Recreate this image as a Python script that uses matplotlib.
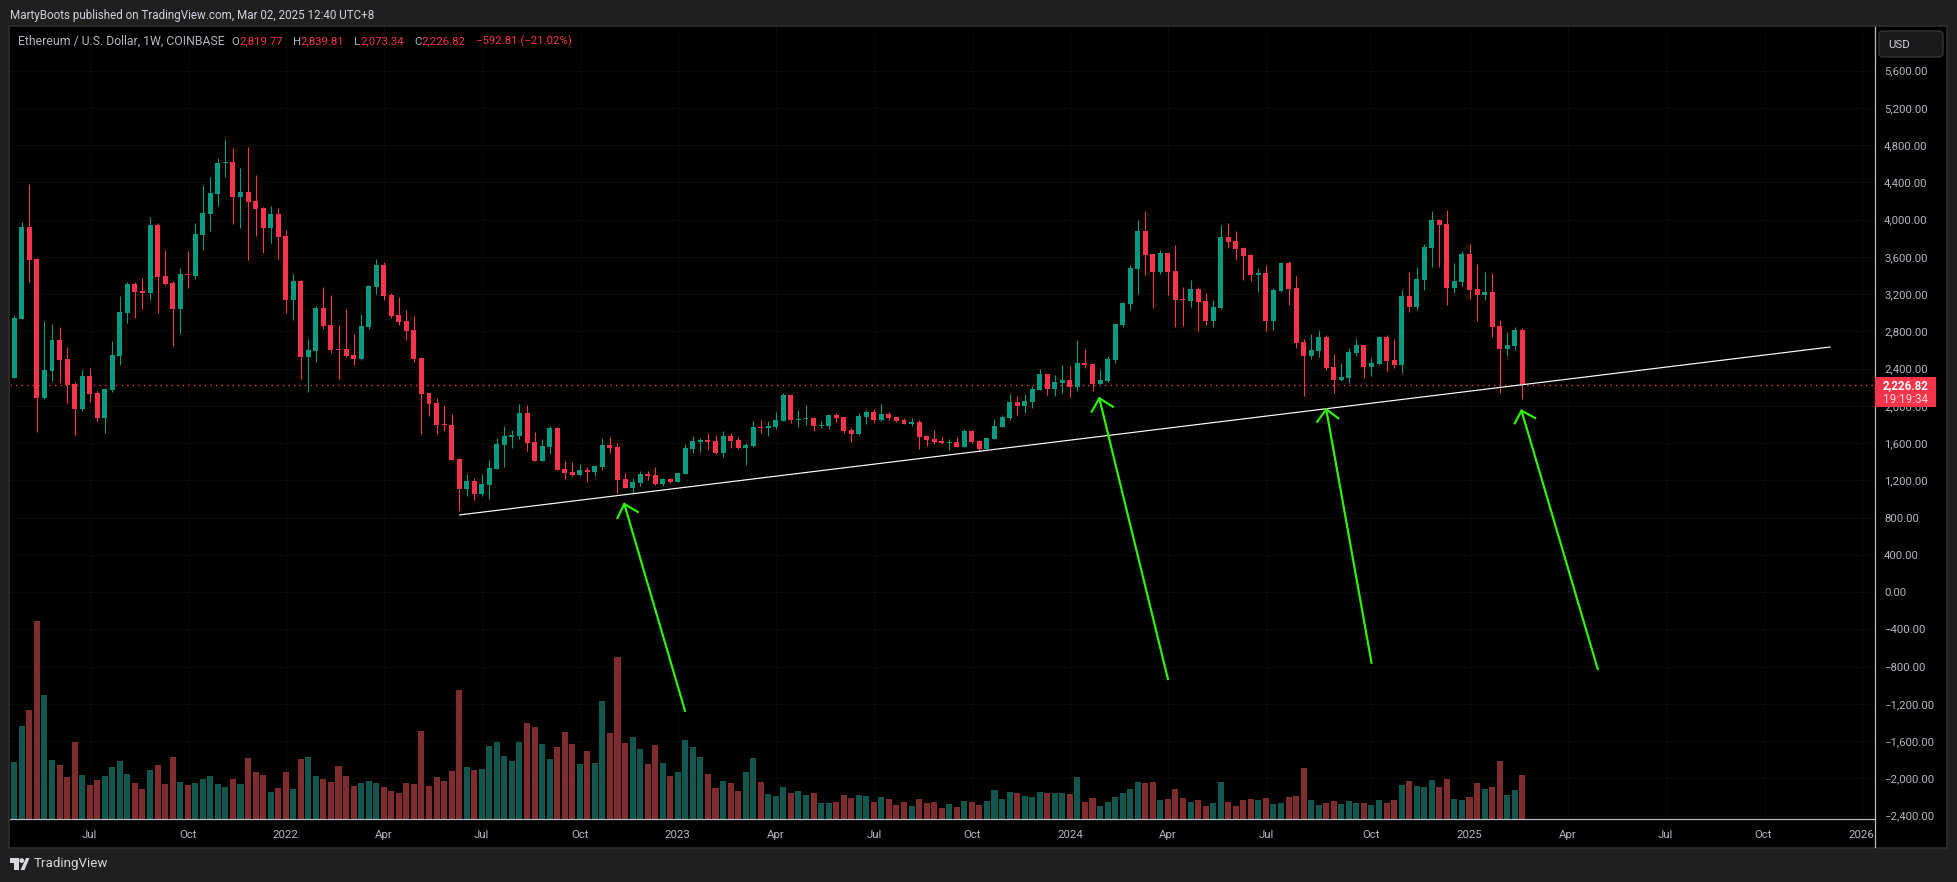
import matplotlib
matplotlib.use("Agg")
import matplotlib.pyplot as plt
from matplotlib.patches import Rectangle, FancyBboxPatch, Polygon, Circle
from matplotlib.lines import Line2D
from matplotlib.ticker import FixedLocator, FixedFormatter

plt.rcParams['font.family'] = ['Roboto', 'DejaVu Sans']

# Weekly bars, ETH/USD
opens = [2303,2933,3921,3577,2088,2378,2707,2503,2235,1966,2321,2138,1870,2170,2536,2997,3309,3234,3212,3942,
 3395,3320,3040,3416,3395,3835,4061,4275,4608,4619,4243,4297,4200,4125,3910,4061,3824,3137,3341,2525,
 2589,3051,2869,2611,2611,2546,2503,2847,3277,3513,3191,2976,2911,2815,2514,2138,2031,1805,1795,1429,
 1107,1193,1054,1150,1322,1580,1666,1676,1923,1612,1408,1558,1762,1322,1290,1257,1311,1290,1343,1580,
 1558,1215,1118,1172,1268,1257,1161,1215,1183,1269,1537,1612,1634,1623,1494,1677,1634,1548,1569,1773,
 1763,1773,1838,2117,1849,1859,1870,1784,1784,1902,1881,1741,1698,1881,1934,1849,1913,1881,1849,1806,
 1827,1677,1645,1623,1602,1612,1559,1730,1623,1537,1645,1773,1870,2042,1999,2042,2171,2343,2182,2246,
 2278,2203,2461,2450,2235,2267,2493,2869,3095,3471,3879,3632,3438,3642,3449,3148,3127,3256,3127,2912,
 3052,3814,3771,3696,3621,3406,3428,2912,3234,3535,3266,2687,2536,2590,2740,2418,2278,2300,2568,2654,
 2418,2450,2740,2493,2440,3181,3062,3352,3696,3997,3954,3266,3331,3632,3256,3191,3223,2858,2611,2644,
 2819.77]
highs = [2972,3971,4383,3584,2911,2879,2847,2629,2256,2385,2403,2160,2188,2697,3180,3327,3330,3373,4025,3960,
 3674,3341,3481,3663,3964,4368,4458,4658,4866,4769,4555,4780,4479,4136,4147,4125,3889,3416,3352,2718,
 3072,3277,3191,2869,3040,2772,2987,3298,3577,3545,3212,3169,3030,2965,2525,2138,2085,2009,1913,1440,
 1268,1225,1268,1418,1655,1784,1741,2020,2009,1719,1644,1784,1773,1408,1397,1376,1343,1365,1655,1666,
 1601,1279,1225,1300,1300,1343,1226,1226,1290,1591,1677,1655,1709,1688,1730,1709,1666,1602,1838,1849,
 1838,1934,2139,2117,1956,2010,1881,1838,1913,1924,1881,1763,1924,1956,1967,2020,1934,1881,1870,1870,
 1849,1688,1741,1666,1645,1666,1752,1741,1634,1655,1859,1902,2128,2106,2128,2214,2396,2343,2332,2439,
 2429,2708,2611,2461,2386,2536,2890,3116,3514,3997,4093,3632,3675,3642,3728,3277,3352,3277,3213,3138,
 3943,3965,3879,3707,3632,3481,3514,3266,3546,3556,3395,2719,2772,2815,2762,2558,2461,2622,2719,2654,
 2515,2751,2762,2719,3245,3438,3492,3739,4093,4007,4104,3535,3664,3739,3524,3438,3428,2923,2794,2848,
 2839.81]
lows = [2303,2933,3330,1719,2070,2271,2249,2034,1691,1948,2045,1841,1712,2152,2443,2894,2947,3040,3137,2997,
 3295,2646,2772,3266,3363,3674,3878,4147,4458,3953,3910,3567,3824,3642,3749,3577,2997,2922,2289,2152,
 2471,2826,2568,2289,2525,2439,2493,2826,3201,3137,2944,2869,2707,2471,1698,1891,1698,1730,1418,871,
 1032,989,1032,1000,1322,1343,1548,1644,1515,1408,1408,1483,1311,1215,1247,1257,1182,1247,1311,1494,
 1064,1118,1064,1139,1204,1150,1140,1172,1183,1269,1494,1505,1526,1483,1451,1548,1537,1365,1559,1709,
 1677,1752,1838,1816,1773,1795,1730,1763,1752,1827,1709,1612,1688,1806,1816,1838,1849,1827,1806,1784,
 1537,1569,1591,1591,1526,1559,1559,1602,1516,1537,1645,1773,1849,1902,1924,1977,2171,2117,2106,2139,
 2096,2160,2407,2160,2235,2257,2461,2848,3030,3202,3406,3052,3417,3191,2848,2858,3062,2805,2869,2848,
 3041,3696,3567,3352,3342,3223,2805,2815,3223,3084,2622,2107,2504,2525,2386,2139,2268,2246,2536,2300,
 2321,2440,2375,2407,2354,3009,3030,3245,3492,3492,3084,3213,3288,3148,2912,3138,2740,2139,2536,2601,
 2073.34]
closes = [2944,3921,3567,2088,2385,2707,2496,2228,1970,2321,2131,1870,2181,2546,3008,3309,3223,3212,3942,3384,
 3309,3040,3416,3406,3846,4071,4286,4608,4616,4243,4297,4190,4114,3910,4061,3814,3137,3341,2525,2600,
 3051,2858,2600,2600,2536,2503,2858,3287,3513,3180,2965,2901,2804,2503,2127,2020,1795,1795,1418,1107,
 1193,1054,1161,1333,1590,1676,1687,1923,1601,1408,1569,1762,1311,1279,1257,1311,1290,1354,1580,1548,
 1204,1118,1182,1268,1247,1161,1215,1183,1279,1548,1623,1634,1612,1494,1677,1623,1548,1580,1773,1763,
 1784,1849,2117,1849,1859,1870,1784,1795,1902,1870,1730,1698,1892,1934,1849,1913,1870,1838,1806,1827,
 1666,1634,1612,1602,1612,1559,1730,1612,1537,1655,1784,1881,2042,1999,2053,2182,2343,2182,2257,2278,
 2203,2461,2439,2235,2278,2504,2880,3105,3481,3879,3621,3438,3642,3438,3138,3138,3256,3116,2912,3062,
 3814,3761,3685,3610,3406,3428,2912,3245,3535,3256,2676,2536,2601,2740,2407,2278,2311,2579,2654,2418,
 2461,2740,2482,2440,3181,3062,3363,3707,3997,3943,3266,3342,3632,3245,3191,3223,2848,2611,2654,2815,
 2226.82]
volumes = [57,93,109,198,124,59,54,42,77,44,34,39,43,52,58,45,36,30,49,54,
 35,62,37,34,36,40,43,35,32,40,35,61,47,44,27,31,47,30,60,62,
 43,40,37,53,43,33,36,38,36,32,28,26,36,35,88,33,42,38,48,129,
 52,49,50,73,77,63,58,77,96,92,75,60,72,87,75,55,68,56,118,86,
 162,76,82,70,55,74,56,43,47,79,72,62,45,31,38,36,28,47,61,37,
 25,23,32,26,28,24,26,16,16,17,24,21,24,23,17,22,20,14,17,13,
 20,16,17,11,15,12,18,17,14,18,29,20,27,26,23,22,27,26,26,26,
 25,42,17,21,13,17,22,26,30,37,36,37,19,20,30,21,17,19,13,16,
 37,17,13,19,20,19,21,15,16,22,23,51,19,14,16,18,15,18,16,16,
 14,19,16,19,34,38,33,32,39,32,40,20,19,22,36,30,32,58,24,29,
 44]

price_ticks = list(range(-2400, 5601, 400))
time_tick_bars = [10,23,36,49,62,75,88,101,114,127,140,153,166,180,193,206,219,232,245]
time_tick_labels = ['Jul','Oct','2022','Apr','Jul','Oct','2023','Apr','Jul','Oct','2024','Apr','Jul','Oct','2025','Apr','Jul','Oct','2026']

trend_bars = [59, 240.9]
trend_prices = [828, 2633]
# each arrow: tail, tip, left wing, right wing as (bar, price)
arrow_bars = [[88.95,80.9,80.0,82.7],[153.0,143.9,142.9,145.7],[180.0,174.0,172.8,175.6],[210.0,199.9,199.0,201.7]]
arrow_prices = [[-1274,946,796,860],[-933,2082,1938,1991],[-758,1963,1830,1867],[-826,1948,1813,1870]]

W, H = 1957, 882
BG = '#1f1f1f'
UP, DOWN = '#089981', '#F7344A'
VUP, VDOWN = '#13564E', '#7E2C2E'
TXT = '#B2B5BE'
GREEN = '#2EF000'

fig = plt.figure(figsize=(W/100, H/100), dpi=100, facecolor=BG)
def fx(px): return px / W
def fy(py): return 1 - py / H

L, R, T, B = 10, 1875, 27, 819
rect = [fx(L), fy(B), (R-L)/W, (B-T)/H]

# black chart panel with its faint frame
fig.add_artist(Rectangle((fx(L-1), fy(847.5)), (1948-L)/W, (847.5-T+1)/H, transform=fig.transFigure,
                         fc='black', ec='#2e2e2e', lw=1.2, zorder=-5))

vol_ax = fig.add_axes(rect, facecolor='black', zorder=1)
ax = fig.add_axes(rect, facecolor='none', zorder=2)

xlim = (-0.57, 246.78)
ylim = (-2437, 6069)

x = list(range(len(opens)))
vol_colors = [VUP if c >= o else VDOWN for o, c in zip(opens, closes)]
vol_ax.bar(x, volumes, width=0.8, color=vol_colors, linewidth=0, zorder=3)
vol_ax.set_xlim(*xlim)
vol_ax.set_ylim(0, B-T)
for s in vol_ax.spines.values():
    s.set_visible(False)
vol_ax.set_xticks(time_tick_bars)
vol_ax.set_yticks([(p - ylim[0]) / (ylim[1] - ylim[0]) * (B-T) for p in price_ticks])
vol_ax.tick_params(length=0, labelbottom=False, labelleft=False)
vol_ax.grid(True, color='#0b0b0b', lw=0.7, zorder=0)
vol_ax.set_axisbelow(True)

colors = [UP if c >= o else DOWN for o, c in zip(opens, closes)]
ax.vlines(x, lows, highs, colors=colors, lw=0.8, zorder=3)
ax.bar(x, [abs(c-o) for o, c in zip(opens, closes)], bottom=[min(o, c) for o, c in zip(opens, closes)],
       width=0.66, color=colors, linewidth=0, zorder=4)

ax.axhline(closes[-1], color='#F23645', lw=1.0, ls=(0, (1, 3)), zorder=2.8)
ax.plot(trend_bars, trend_prices, color='white', lw=0.85, zorder=5, solid_capstyle='butt')
for bars, prices in zip(arrow_bars, arrow_prices):
    ax.plot(bars[:2], prices[:2], color=GREEN, lw=1.6, zorder=6)
    ax.plot([bars[2], bars[1], bars[3]], [prices[2], prices[1], prices[3]], color=GREEN, lw=1.6, zorder=6)

ax.set_xlim(*xlim)
ax.set_ylim(*ylim)
ax.xaxis.set_major_locator(FixedLocator(time_tick_bars))
ax.xaxis.set_major_formatter(FixedFormatter(time_tick_labels))
ax.yaxis.tick_right()
ax.yaxis.set_major_locator(FixedLocator(price_ticks))
ax.yaxis.set_major_formatter(FixedFormatter([f"{p:,.2f}".replace('-', '\u2212') for p in price_ticks]))
ax.tick_params(axis='both', length=0, labelsize=8.2, labelcolor=TXT)
ax.tick_params(axis='y', pad=6.5)
ax.tick_params(axis='x', pad=7.7)
for s in ['top', 'left', 'right']:
    ax.spines[s].set_visible(False)
ax.spines['bottom'].set_color('#B8BBC2')
ax.spines['bottom'].set_linewidth(0.9)
fig.add_artist(Line2D([fx(R), fx(R)], [fy(T), fy(847)], color='#B8BBC2', lw=0.9, zorder=3))

# header texts
fig.text(fx(10), fy(15), 'MartyBoots published on TradingView.com, Mar 02, 2025 12:40 UTC+8',
         color='#D1D4DC', fontsize=8.4, va='center', ha='left')
fig.text(fx(18), fy(41.7), 'Ethereum / U.S. Dollar, 1W, COINBASE', color=TXT, fontsize=8.8, va='center', ha='left')
header = [(231, 'O', TXT), (239, '2,819.77', DOWN),
          (292.5, 'H', TXT), (300.5, '2,839.81', DOWN), (354, 'L', TXT), (360.7, '2,073.34', DOWN),
          (414, 'C', TXT), (421.7, '2,226.82', DOWN), (475.6, '\u2212592.81 (\u221221.02%)', DOWN)]
for px, s, c in header:
    fig.text(fx(px), fy(41.7), s, color=c, fontsize=8.2, va='center', ha='left')

# USD button
fig.add_artist(FancyBboxPatch((1881, H-55), 60, 22, boxstyle='round,pad=2,rounding_size=4', transform=None,
                              fc='#191919', ec='#333333', lw=1, zorder=4))
fig.text(fx(1888), fy(44.6), 'USD', color='#D1D4DC', fontsize=8.2, va='center', ha='left', zorder=5)

# last price tag
cy = H - ax.transData.transform((0, closes[-1]))[1]
fig.add_artist(Rectangle((R, H-(cy+22.5)), 61, 30.5, transform=None, fc='#F7344A', ec='none', zorder=4))
fig.text(fx(1905.5), fy(cy+0.5), f"{closes[-1]:,.2f}", color='white', fontsize=8.4, fontweight='bold',
         va='center', ha='center', zorder=5)
fig.text(fx(1905.5), fy(cy+14.5), '19:19:34', color='#FFD5DA', fontsize=8.4, va='center', ha='center', zorder=5)

# footer logo and name
ink = '#D8D9DC'
fig.add_artist(Polygon([(10, H-858), (19, H-858), (19, H-870), (14, H-870), (14, H-863), (10, H-863)],
                       transform=None, fc=ink, ec='none', zorder=4))
fig.add_artist(Circle((21.7, H-860.6), 2.4, transform=None, fc=ink, ec='none', zorder=4))
fig.add_artist(Polygon([(26, H-858), (29.5, H-858), (24.5, H-870), (20.5, H-870)],
                       transform=None, fc=ink, ec='none', zorder=4))
fig.text(fx(33.5), fy(864), 'TradingView', color=ink, fontsize=9.6, va='center', ha='left')

fig.savefig('out.png', dpi=100, facecolor=BG)
